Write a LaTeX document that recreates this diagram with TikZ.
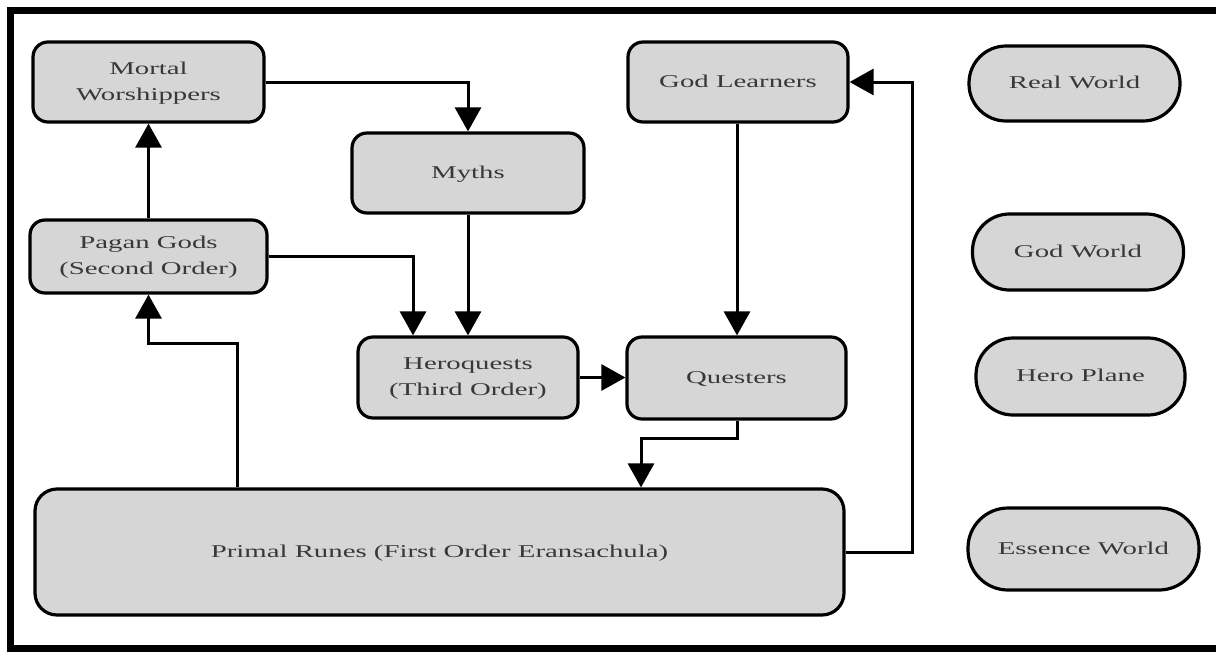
\documentclass[tikz,border=0pt]{standalone}
\usepackage{fontspec}
\usepackage{graphicx}
\setmainfont{Liberation Serif}
\usetikzlibrary{arrows.meta,positioning}
\definecolor{boxfill}{HTML}{D6D6D6}
\definecolor{txt}{HTML}{383838}
\newcommand\widetxt[1]{\scalebox{1.6}[1]{\begin{tabular}{@{}c@{}}#1\end{tabular}}}
\tikzset{
  box/.style={draw=black, line width=3.2pt, fill=boxfill, rounded corners=15pt,
    inner sep=0pt, align=center, text=txt, font=\fontsize{18}{26}\selectfont},
  pill/.style={box, rounded corners=37pt},
  conn/.style={line width=3pt, draw=black, -{Triangle[length=24pt,width=26pt]}},
}
\begin{document}
\begin{tikzpicture}[x=1pt,y=-1pt]
\useasboundingbox (0,0) rectangle (1216,651);
\fill[white] (0,0) rectangle (1216,651);
\begin{scope}
\clip (0,0) rectangle (1216,651);
\draw[line width=7pt] (1240,10.5) -- (10.5,10.5) -- (10.5,648.5) -- (1240,648.5);
\end{scope}
% nodes
\node[box, minimum width=231pt, minimum height=80pt] (mw) at (148.5,82) {\widetxt{Mortal\\Worshippers}};
\node[box, minimum width=232pt, minimum height=80pt] (myths) at (468,173) {\widetxt{Myths}};
\node[box, minimum width=237pt, minimum height=73pt] (pagan) at (148.5,256.5) {\widetxt{Pagan Gods\\(Second Order)}};
\node[box, minimum width=220pt, minimum height=80pt] (gl) at (738,82) {\widetxt{God Learners}};
\node[box, minimum width=220pt, minimum height=81pt] (hq) at (468,377.5) {\widetxt{Heroquests\\(Third Order)}};
\node[box, minimum width=219pt, minimum height=82pt] (qu) at (736.5,378) {\widetxt{Questers}};
\node[box, minimum width=809pt, minimum height=126pt, rounded corners=22pt] (pr) at (439.5,552) {\widetxt{Primal Runes (First Order Eransachula)}};
\node[pill, minimum width=211pt, minimum height=75pt] (rw) at (1074.5,83.5) {\widetxt{Real World}};
\node[pill, minimum width=211pt, minimum height=76pt] (gw) at (1078,252) {\widetxt{God World}};
\node[pill, minimum width=209pt, minimum height=77pt] (hp) at (1080.5,376.5) {\widetxt{Hero Plane}};
\node[pill, minimum width=231pt, minimum height=82pt, rounded corners=40pt] (ew) at (1083.5,549) {\widetxt{Essence World}};
% coordinates
\coordinate (c1) at (468,82);
\coordinate (c2) at (413,256.5);
\coordinate (c3a) at (237,343);
\coordinate (c3b) at (148.5,343);
\coordinate (c4a) at (737,438);
\coordinate (c4b) at (641,438);
\coordinate (c5a) at (912,552);
\coordinate (c5b) at (912,82);
% connectors
\draw[conn] (mw.east |- c1) -- (c1) -- (myths.north);
\draw[conn] (myths.south) -- (hq.north -| myths.south);
\draw[conn] (pagan.east |- c2) -- (c2) -- (hq.north -| c2);
\draw[conn] (pagan.north) -- (mw.south);
\draw[conn] (pr.north -| c3a) -- (c3a) -- (c3b) -- (pagan.south);
\draw[conn] (gl.south -| c4a) -- (qu.north -| c4a);
\draw[conn] (hq.east) -- (qu.west |- hq.east);
\draw[conn] (qu.south -| c4a) -- (c4a) -- (c4b) -- (pr.north -| c4b);
\draw[conn] (pr.east |- c5a) -- (c5a) -- (c5b) -- (gl.east |- c5b);
\end{tikzpicture}
\end{document}
